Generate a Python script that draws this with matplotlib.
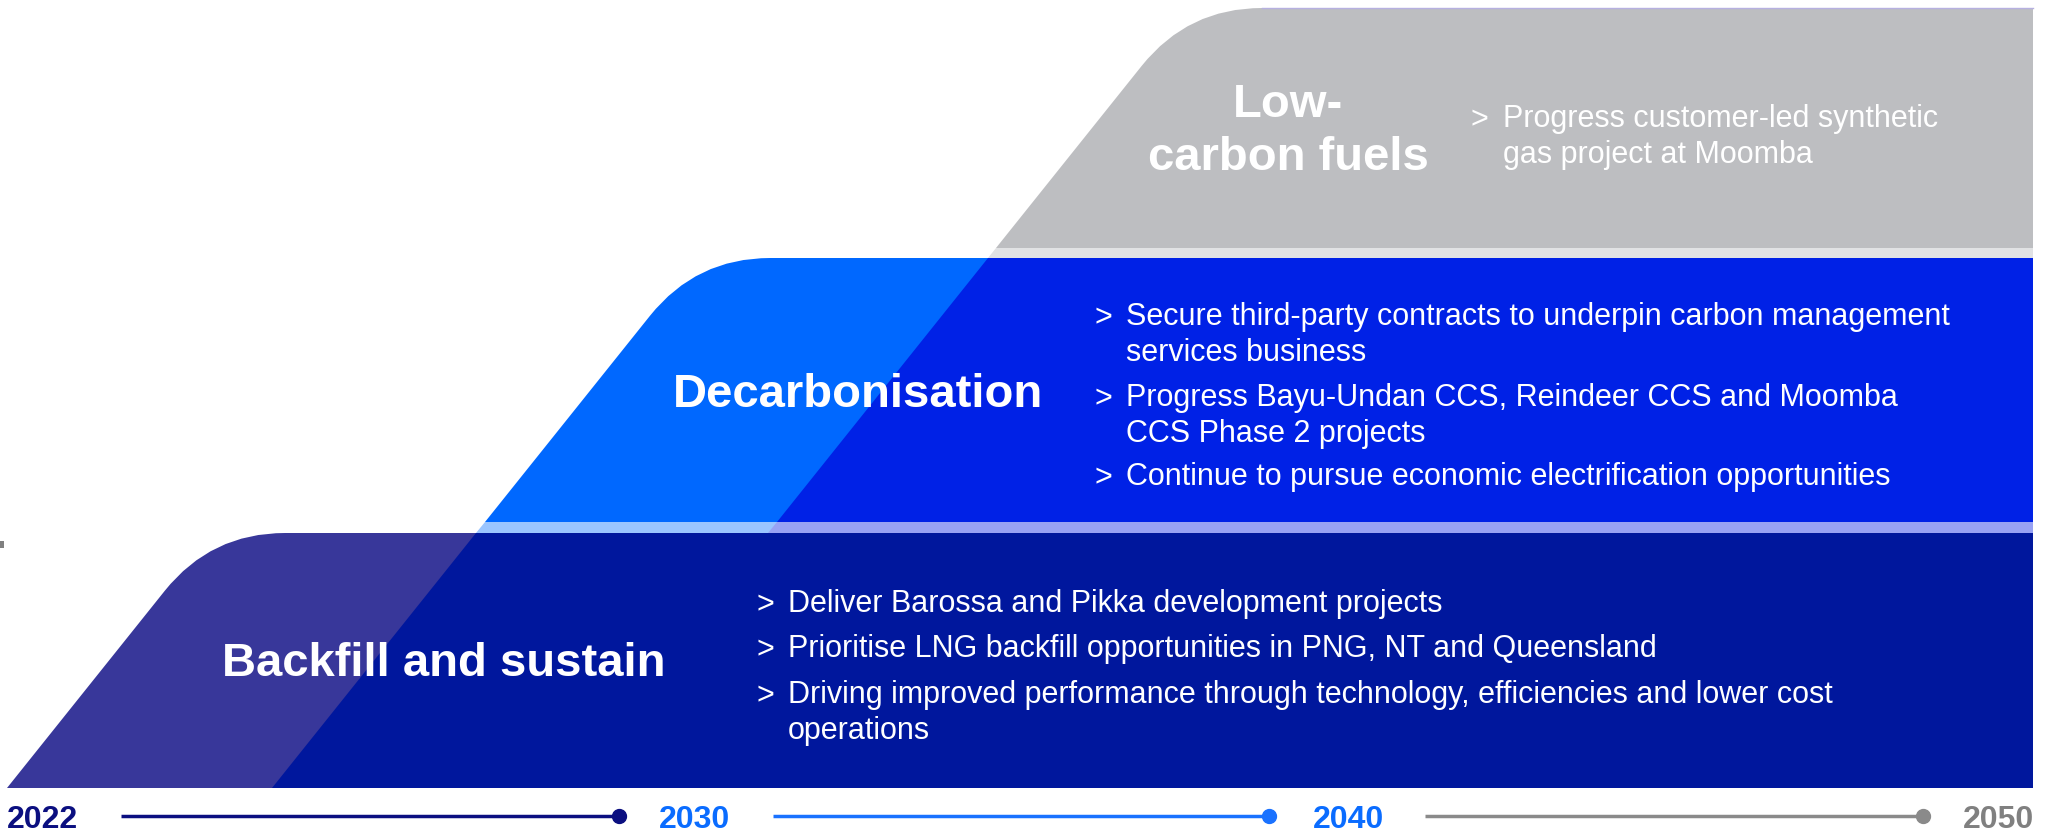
import numpy as np
import matplotlib.pyplot as plt
from matplotlib.path import Path
from matplotlib.patches import PathPatch, Polygon, Rectangle

# ---- content ----
bands = ["Backfill and sustain", "Decarbonisation", "Low-\ncarbon fuels"]
bullets = [
    ["Deliver Barossa and Pikka development projects",
     "Prioritise LNG backfill opportunities in PNG, NT and Queensland",
     "Driving improved performance through technology, efficiencies and lower cost\noperations"],
    ["Secure third-party contracts to underpin carbon management\nservices business",
     "Progress Bayu-Undan CCS, Reindeer CCS and Moomba\nCCS Phase 2 projects",
     "Continue to pursue economic electrification opportunities"],
    ["Progress customer-led synthetic\ngas project at Moomba"],
]
years = ["2022", "2030", "2040", "2050"]

# ---- style ----
light_cols = ["#38379a", "#0068ff", "#bdbec1"]
dark_cols = ["#00179d", "#0021e6", None]
year_cols = ["#0b0f80", "#0a6cff", "#0a6cff", "#808080"]
line_cols = ["#0b0f80", "#1a72ff", "#8a8a8a"]

# ---- layout (pixel units, y down) ----
W, H = 2055, 832
right = 2033
tops = [533, 258, 8]
bottoms = [788, 522, 248]
x_bot = [7, 485, 996]      # where each band's slanted edge meets its bottom
slope = 0.8                # dx per dy of slanted edges
corner = 74

head_xy = [(444, 676), (858, 407), (1288, 117)]   # first-line baselines
marker_x = [756, 1094, 1471]
text_x = [788, 1126, 1503]
bullet_base = [[613, 658, 704], [326, 407, 486], [128]]

HEAD_FS, BUL_FS = 34, 22


def edge_x(i, y):
    return x_bot[i] + slope * (bottoms[i] - y)


def band_path(i):
    top, bot = tops[i], bottoms[i]
    vx = edge_x(i, top)
    u = np.array([-slope, 1.0]) / np.hypot(slope, 1.0)
    p1 = np.array([vx, top]) + corner * u
    verts = [(edge_x(i, bot), bot), tuple(p1), (vx, top), (vx + corner, top),
             (right, top), (right, bot), (0, 0)]
    codes = [Path.MOVETO, Path.LINETO, Path.CURVE3, Path.CURVE3,
             Path.LINETO, Path.LINETO, Path.CLOSEPOLY]
    return Path(verts, codes)


def strip(i, y0, y1, x_end=right):
    return [(edge_x(i, y0), y0), (x_end, y0), (x_end, y1), (edge_x(i, y1), y1)]


def top_from_base(base, fs, k):
    # va='top' puts the line's ascent box at y; shift from the wanted baseline
    return base - k * fs * 100 / 72


plt.rcParams['font.family'] = ['Liberation Sans', 'DejaVu Sans']
fig = plt.figure(figsize=(W / 100, H / 100), dpi=100)
ax = fig.add_axes([0, 0, 1, 1])
ax.set_xlim(0, W)
ax.set_ylim(H, 0)
ax.axis('off')

for i in range(3):
    ax.add_patch(PathPatch(band_path(i), facecolor=light_cols[i], edgecolor='none'))
# thin lavender rim along the top of the grey band
gp = band_path(2)
ax.plot([gp.vertices[3][0], right], [tops[2], tops[2]], color='#b6b0e0', lw=1)

# darker parts where the next band's slanted edge carries on down
ax.add_patch(Polygon(strip(1, tops[0], bottoms[0]), closed=True, fc=dark_cols[0], ec='none'))
ax.add_patch(Polygon(strip(2, tops[1], bottoms[1]), closed=True, fc=dark_cols[1], ec='none'))

# light separators between bands
ax.add_patch(Polygon(strip(1, bottoms[1], tops[0]), closed=True, fc="#9ac5ff", ec='none'))
ax.add_patch(Polygon(strip(2, bottoms[1], tops[0]), closed=True, fc="#98a2f4", ec='none'))
ax.add_patch(Polygon(strip(2, bottoms[2], tops[1]), closed=True, fc="#e1e2e4", ec='none'))

ax.add_patch(Rectangle((0, 541), 4, 7, fc="#808080", ec='none'))

# headings
for name, (hx, hb) in zip(bands, head_xy):
    ax.text(hx, top_from_base(hb, HEAD_FS, 0.71), name, color='white', fontsize=HEAD_FS,
            fontweight='bold', ha='center', va='top', linespacing=1.25,
            multialignment='center')

# bullets
for i in range(3):
    for txt, bb in zip(bullets[i], bullet_base[i]):
        ty_ = top_from_base(bb, BUL_FS, 0.78)
        ax.text(marker_x[i], bb, ">", color='white', fontsize=BUL_FS,
                ha='left', va='baseline')
        ax.text(text_x[i], ty_, txt, color='white', fontsize=BUL_FS,
                ha='left', va='top', linespacing=1.27)

# timeline
line_y = 816
label_x = [7, 695, 1348, 2034]
label_ha = ['left', 'center', 'center', 'right']
for yr, lx, ha, c in zip(years, label_x, label_ha, year_cols):
    ax.text(lx, 828, yr, color=c, fontsize=23, fontweight='bold', ha=ha, va='baseline')
seg = [(121, 619), (773, 1269), (1425, 1923)]
for (a, b), c in zip(seg, line_cols):
    ax.plot([a, b], [line_y, line_y], color=c, lw=2.5, solid_capstyle='butt')
    ax.plot([b], [line_y], 'o', color=c, ms=10)

fig.savefig("out.png", dpi=100)
